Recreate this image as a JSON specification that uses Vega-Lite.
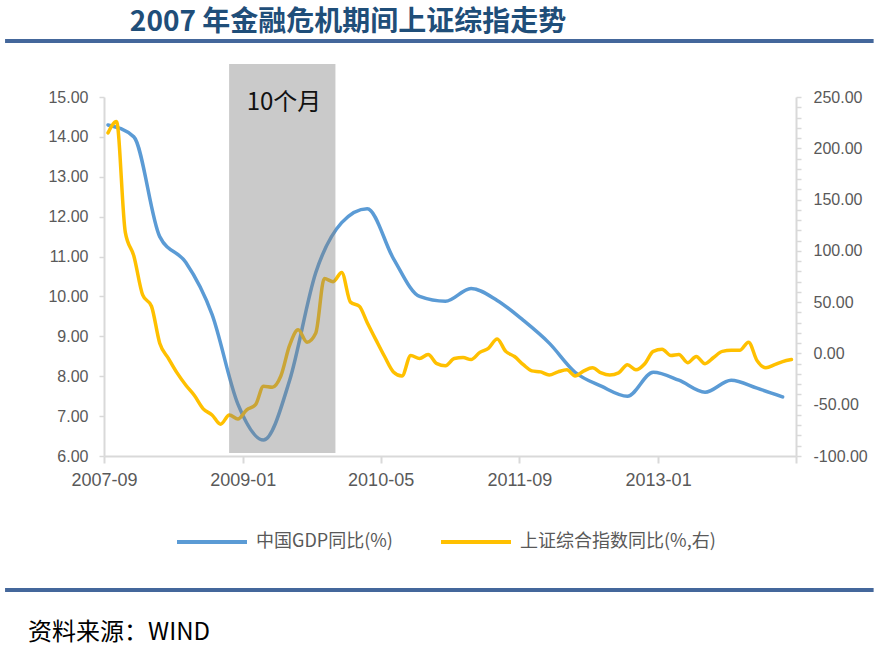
{
  "$schema": "https://vega.github.io/schema/vega-lite/v6.json",
  "width": 692,
  "height": 359,
  "autosize": {"type": "none"},
  "padding": {"left": 104, "top": 97, "right": 84, "bottom": 193},
  "background": "white",
  "config": {
    "view": {"stroke": null},
    "axis": {"grid": false, "title": null, "labelFont": "Liberation Sans", "labelColor": "#595959", "domainColor": "#D9D9D9", "domainWidth": 2, "tickColor": "#D9D9D9", "labelOverlap": false},
    "legend": {
      "orient": "none",
      "legendX": 71,
      "legendY": 408,
      "direction": "horizontal",
      "columns": 2,
      "symbolType": "stroke",
      "symbolSize": 4900,
      "symbolStrokeWidth": 4,
      "labelFontSize": 18,
      "labelColor": "#595959",
      "labelFont": "Noto Sans CJK SC",
      "labelOffset": 7,
      "columnPadding": 40,
      "labelLimit": 400
    }
  },
  "datasets": {
    "gdp": [
      {"date": "2007-09-15", "v": 14.3},
      {"date": "2007-12-15", "v": 14.0},
      {"date": "2008-03-15", "v": 11.5},
      {"date": "2008-06-15", "v": 10.85},
      {"date": "2008-09-15", "v": 9.55},
      {"date": "2008-12-15", "v": 7.3},
      {"date": "2009-03-15", "v": 6.4},
      {"date": "2009-06-15", "v": 7.9},
      {"date": "2009-09-15", "v": 10.6},
      {"date": "2009-12-15", "v": 11.85},
      {"date": "2010-03-15", "v": 12.2},
      {"date": "2010-06-15", "v": 10.95},
      {"date": "2010-09-15", "v": 10.0},
      {"date": "2010-12-15", "v": 9.88},
      {"date": "2011-03-15", "v": 10.2},
      {"date": "2011-06-15", "v": 9.9},
      {"date": "2011-09-15", "v": 9.4},
      {"date": "2011-12-15", "v": 8.83},
      {"date": "2012-03-15", "v": 8.1},
      {"date": "2012-06-15", "v": 7.75},
      {"date": "2012-09-15", "v": 7.5},
      {"date": "2012-12-15", "v": 8.1},
      {"date": "2013-03-15", "v": 7.9},
      {"date": "2013-06-15", "v": 7.6},
      {"date": "2013-09-15", "v": 7.9},
      {"date": "2013-12-15", "v": 7.7},
      {"date": "2014-03-15", "v": 7.48}
    ],
    "sse": [
      {"date": "2007-09-15", "v": 215},
      {"date": "2007-10-15", "v": 226},
      {"date": "2007-11-15", "v": 118},
      {"date": "2007-12-15", "v": 95},
      {"date": "2008-01-15", "v": 57},
      {"date": "2008-02-15", "v": 46},
      {"date": "2008-03-15", "v": 10},
      {"date": "2008-04-15", "v": -5},
      {"date": "2008-05-15", "v": -19},
      {"date": "2008-06-15", "v": -31},
      {"date": "2008-07-15", "v": -41},
      {"date": "2008-08-15", "v": -54},
      {"date": "2008-09-15", "v": -60},
      {"date": "2008-10-15", "v": -69},
      {"date": "2008-11-15", "v": -60},
      {"date": "2008-12-15", "v": -64},
      {"date": "2009-01-15", "v": -55},
      {"date": "2009-02-15", "v": -50},
      {"date": "2009-03-15", "v": -32},
      {"date": "2009-04-15", "v": -33},
      {"date": "2009-05-15", "v": -22},
      {"date": "2009-06-15", "v": 8},
      {"date": "2009-07-15", "v": 23},
      {"date": "2009-08-15", "v": 11},
      {"date": "2009-09-15", "v": 20},
      {"date": "2009-10-15", "v": 73},
      {"date": "2009-11-15", "v": 70},
      {"date": "2009-12-15", "v": 79},
      {"date": "2010-01-15", "v": 50},
      {"date": "2010-02-15", "v": 46},
      {"date": "2010-03-15", "v": 30},
      {"date": "2010-04-15", "v": 13},
      {"date": "2010-05-15", "v": -3},
      {"date": "2010-06-15", "v": -18},
      {"date": "2010-07-15", "v": -22},
      {"date": "2010-08-15", "v": -2},
      {"date": "2010-09-15", "v": -5},
      {"date": "2010-10-15", "v": -1},
      {"date": "2010-11-15", "v": -10},
      {"date": "2010-12-15", "v": -12},
      {"date": "2011-01-15", "v": -5},
      {"date": "2011-02-15", "v": -4},
      {"date": "2011-03-15", "v": -6},
      {"date": "2011-04-15", "v": 1},
      {"date": "2011-05-15", "v": 5},
      {"date": "2011-06-15", "v": 14},
      {"date": "2011-07-15", "v": 2},
      {"date": "2011-08-15", "v": -3},
      {"date": "2011-09-15", "v": -11},
      {"date": "2011-10-15", "v": -17},
      {"date": "2011-11-15", "v": -18},
      {"date": "2011-12-15", "v": -21},
      {"date": "2012-01-15", "v": -18},
      {"date": "2012-02-15", "v": -16},
      {"date": "2012-03-15", "v": -22},
      {"date": "2012-04-15", "v": -17},
      {"date": "2012-05-15", "v": -14},
      {"date": "2012-06-15", "v": -19},
      {"date": "2012-07-15", "v": -21},
      {"date": "2012-08-15", "v": -19},
      {"date": "2012-09-15", "v": -11},
      {"date": "2012-10-15", "v": -16},
      {"date": "2012-11-15", "v": -10},
      {"date": "2012-12-15", "v": 2},
      {"date": "2013-01-15", "v": 4},
      {"date": "2013-02-15", "v": -2},
      {"date": "2013-03-15", "v": -1},
      {"date": "2013-04-15", "v": -9},
      {"date": "2013-05-15", "v": -3},
      {"date": "2013-06-15", "v": -10},
      {"date": "2013-07-15", "v": -4},
      {"date": "2013-08-15", "v": 2},
      {"date": "2013-09-15", "v": 3},
      {"date": "2013-10-15", "v": 3},
      {"date": "2013-11-15", "v": 11},
      {"date": "2013-12-15", "v": -7},
      {"date": "2014-01-15", "v": -14},
      {"date": "2014-02-15", "v": -11},
      {"date": "2014-03-15", "v": -8},
      {"date": "2014-04-15", "v": -6}
    ],
    "period": [
      {"start": "2008-11-14", "end": "2009-11-23", "label": "10个月"}
    ]
  },
  "layer": [
    {
      "layer": [
        {
          "data": {"name": "gdp"},
          "mark": {"type": "line", "interpolate": "monotone", "strokeWidth": 3.5, "strokeJoin": "round", "strokeCap": "round"},
          "encoding": {
            "x": {
              "field": "date", "type": "temporal",
              "scale": {"type": "utc", "domain": [{"year": 2007, "month": 9, "date": 1, "utc": true}, {"year": 2014, "month": 5, "date": 1, "utc": true}]},
              "axis": {"values": [{"year": 2007, "month": 9, "date": 1, "utc": true}, {"year": 2009, "month": 1, "date": 1, "utc": true}, {"year": 2010, "month": 5, "date": 1, "utc": true}, {"year": 2011, "month": 9, "date": 1, "utc": true}, {"year": 2013, "month": 1, "date": 1, "utc": true}, {"year": 2014, "month": 5, "date": 1, "utc": true}], "labelExpr": "utcyear(datum.value) == 2014 ? '' : utcFormat(datum.value, '%Y-%m')", "labelFlush": false, "labelFontSize": 18, "labelPadding": 8, "labelDx": 3, "tickWidth": 2, "tickSize": 7}
            },
            "y": {
              "field": "v", "type": "quantitative",
              "scale": {"domain": [6, 15], "nice": false, "zero": false},
              "axis": {"orient": "left", "values": [6, 7, 8, 9, 10, 11, 12, 13, 14, 15], "format": ".2f", "labelFontSize": 16, "labelPadding": 11, "tickWidth": 1.5, "tickSize": 5}
            },
            "color": {
              "datum": "中国GDP同比(%)",
              "type": "nominal",
              "scale": {"domain": ["中国GDP同比(%)", "上证综合指数同比(%,右)"], "range": ["#5B9BD5", "#FFC000"]},
              "legend": {"title": null}
            }
          }
        }
      ]
    },
    {
      "layer": [
        {
          "data": {"name": "sse"},
          "mark": {"type": "line", "interpolate": "monotone", "strokeWidth": 3.5, "strokeJoin": "round", "strokeCap": "round"},
          "encoding": {
            "x": {
              "field": "date", "type": "temporal",
              "scale": {"type": "utc", "domain": [{"year": 2007, "month": 9, "date": 1, "utc": true}, {"year": 2014, "month": 5, "date": 1, "utc": true}]},
              "axis": {"values": [{"year": 2007, "month": 9, "date": 1, "utc": true}, {"year": 2009, "month": 1, "date": 1, "utc": true}, {"year": 2010, "month": 5, "date": 1, "utc": true}, {"year": 2011, "month": 9, "date": 1, "utc": true}, {"year": 2013, "month": 1, "date": 1, "utc": true}, {"year": 2014, "month": 5, "date": 1, "utc": true}], "labelExpr": "utcyear(datum.value) == 2014 ? '' : utcFormat(datum.value, '%Y-%m')", "labelFlush": false, "labelFontSize": 18, "labelPadding": 8, "labelDx": 3, "tickWidth": 2, "tickSize": 7}
            },
            "y": {
              "field": "v", "type": "quantitative",
              "scale": {"domain": [-100, 250], "nice": false, "zero": false},
              "axis": {"orient": "right", "values": [-100, -90, -80, -70, -60, -50, -40, -30, -20, -10, 0, 10, 20, 30, 40, 50, 60, 70, 80, 90, 100, 110, 120, 130, 140, 150, 160, 170, 180, 190, 200, 210, 220, 230, 240, 250], "labelExpr": "datum.value % 50 == 0 ? replace(format(datum.value, '.2f'), '\u2212', '-') : ''", "labelFontSize": 16, "labelPadding": 12, "labelBound": false, "tickWidth": 1.5, "tickSize": 5}
            },
            "color": {
              "datum": "上证综合指数同比(%,右)",
              "type": "nominal",
              "scale": {"domain": ["中国GDP同比(%)", "上证综合指数同比(%,右)"], "range": ["#5B9BD5", "#FFC000"]},
              "legend": {"title": null}
            }
          }
        },
        {
          "data": {"name": "period"},
          "mark": {"type": "rect", "color": "#808080", "opacity": 0.42},
          "encoding": {
            "x": {
              "field": "start", "type": "temporal",
              "scale": {"type": "utc", "domain": [{"year": 2007, "month": 9, "date": 1, "utc": true}, {"year": 2014, "month": 5, "date": 1, "utc": true}]},
              "axis": {"values": [{"year": 2007, "month": 9, "date": 1, "utc": true}, {"year": 2009, "month": 1, "date": 1, "utc": true}, {"year": 2010, "month": 5, "date": 1, "utc": true}, {"year": 2011, "month": 9, "date": 1, "utc": true}, {"year": 2013, "month": 1, "date": 1, "utc": true}, {"year": 2014, "month": 5, "date": 1, "utc": true}], "labelExpr": "utcyear(datum.value) == 2014 ? '' : utcFormat(datum.value, '%Y-%m')", "labelFlush": false, "labelFontSize": 18, "labelPadding": 8, "labelDx": 3, "tickWidth": 2, "tickSize": 7}
            },
            "x2": {"field": "end"},
            "y": {
              "datum": 282.2, "type": "quantitative",
              "scale": {"domain": [-100, 250], "nice": false, "zero": false},
              "axis": {"orient": "right", "values": [-100, -90, -80, -70, -60, -50, -40, -30, -20, -10, 0, 10, 20, 30, 40, 50, 60, 70, 80, 90, 100, 110, 120, 130, 140, 150, 160, 170, 180, 190, 200, 210, 220, 230, 240, 250], "labelExpr": "datum.value % 50 == 0 ? replace(format(datum.value, '.2f'), '\u2212', '-') : ''", "labelFontSize": 16, "labelPadding": 12, "labelBound": false, "tickWidth": 1.5, "tickSize": 5}
            },
            "y2": {"datum": -97.1}
          }
        },
        {
          "data": {"name": "period"},
          "mark": {"type": "text", "font": "Noto Sans CJK SC", "fontSize": 24, "color": "#111111", "align": "center", "baseline": "middle"},
          "encoding": {
            "x": {
              "datum": {"year": 2009, "month": 5, "date": 26, "utc": true}, "type": "temporal",
              "scale": {"type": "utc", "domain": [{"year": 2007, "month": 9, "date": 1, "utc": true}, {"year": 2014, "month": 5, "date": 1, "utc": true}]},
              "axis": {"values": [{"year": 2007, "month": 9, "date": 1, "utc": true}, {"year": 2009, "month": 1, "date": 1, "utc": true}, {"year": 2010, "month": 5, "date": 1, "utc": true}, {"year": 2011, "month": 9, "date": 1, "utc": true}, {"year": 2013, "month": 1, "date": 1, "utc": true}, {"year": 2014, "month": 5, "date": 1, "utc": true}], "labelExpr": "utcyear(datum.value) == 2014 ? '' : utcFormat(datum.value, '%Y-%m')", "labelFlush": false, "labelFontSize": 18, "labelPadding": 8, "labelDx": 3, "tickWidth": 2, "tickSize": 7}
            },
            "y": {
              "datum": 244.2, "type": "quantitative",
              "scale": {"domain": [-100, 250], "nice": false, "zero": false},
              "axis": {"orient": "right", "values": [-100, -90, -80, -70, -60, -50, -40, -30, -20, -10, 0, 10, 20, 30, 40, 50, 60, 70, 80, 90, 100, 110, 120, 130, 140, 150, 160, 170, 180, 190, 200, 210, 220, 230, 240, 250], "labelExpr": "datum.value % 50 == 0 ? replace(format(datum.value, '.2f'), '\u2212', '-') : ''", "labelFontSize": 16, "labelPadding": 12, "labelBound": false, "tickWidth": 1.5, "tickSize": 5}
            },
            "text": {"field": "label"}
          }
        },
        {
          "data": {"values": [{}]},
          "mark": {"type": "rule", "color": "#44679B", "strokeWidth": 4},
          "encoding": {
            "x": {
              "datum": {"year": 2006, "month": 9, "date": 18, "utc": true}, "type": "temporal",
              "scale": {"type": "utc", "domain": [{"year": 2007, "month": 9, "date": 1, "utc": true}, {"year": 2014, "month": 5, "date": 1, "utc": true}]},
              "axis": {"values": [{"year": 2007, "month": 9, "date": 1, "utc": true}, {"year": 2009, "month": 1, "date": 1, "utc": true}, {"year": 2010, "month": 5, "date": 1, "utc": true}, {"year": 2011, "month": 9, "date": 1, "utc": true}, {"year": 2013, "month": 1, "date": 1, "utc": true}, {"year": 2014, "month": 5, "date": 1, "utc": true}], "labelExpr": "utcyear(datum.value) == 2014 ? '' : utcFormat(datum.value, '%Y-%m')", "labelFlush": false, "labelFontSize": 18, "labelPadding": 8, "labelDx": 3, "tickWidth": 2, "tickSize": 7}
            },
            "x2": {"datum": {"year": 2015, "month": 1, "date": 29, "utc": true}},
            "y": {
              "datum": 304.6, "type": "quantitative",
              "scale": {"domain": [-100, 250], "nice": false, "zero": false},
              "axis": {"orient": "right", "values": [-100, -90, -80, -70, -60, -50, -40, -30, -20, -10, 0, 10, 20, 30, 40, 50, 60, 70, 80, 90, 100, 110, 120, 130, 140, 150, 160, 170, 180, 190, 200, 210, 220, 230, 240, 250], "labelExpr": "datum.value % 50 == 0 ? replace(format(datum.value, '.2f'), '\u2212', '-') : ''", "labelFontSize": 16, "labelPadding": 12, "labelBound": false, "tickWidth": 1.5, "tickSize": 5}
            }
          }
        },
        {
          "data": {"values": [{}]},
          "mark": {"type": "rule", "color": "#44679B", "strokeWidth": 4},
          "encoding": {
            "x": {
              "datum": {"year": 2006, "month": 9, "date": 18, "utc": true}, "type": "temporal",
              "scale": {"type": "utc", "domain": [{"year": 2007, "month": 9, "date": 1, "utc": true}, {"year": 2014, "month": 5, "date": 1, "utc": true}]},
              "axis": {"values": [{"year": 2007, "month": 9, "date": 1, "utc": true}, {"year": 2009, "month": 1, "date": 1, "utc": true}, {"year": 2010, "month": 5, "date": 1, "utc": true}, {"year": 2011, "month": 9, "date": 1, "utc": true}, {"year": 2013, "month": 1, "date": 1, "utc": true}, {"year": 2014, "month": 5, "date": 1, "utc": true}], "labelExpr": "utcyear(datum.value) == 2014 ? '' : utcFormat(datum.value, '%Y-%m')", "labelFlush": false, "labelFontSize": 18, "labelPadding": 8, "labelDx": 3, "tickWidth": 2, "tickSize": 7}
            },
            "x2": {"datum": {"year": 2015, "month": 1, "date": 29, "utc": true}},
            "y": {
              "datum": -230.6, "type": "quantitative",
              "scale": {"domain": [-100, 250], "nice": false, "zero": false},
              "axis": {"orient": "right", "values": [-100, -90, -80, -70, -60, -50, -40, -30, -20, -10, 0, 10, 20, 30, 40, 50, 60, 70, 80, 90, 100, 110, 120, 130, 140, 150, 160, 170, 180, 190, 200, 210, 220, 230, 240, 250], "labelExpr": "datum.value % 50 == 0 ? replace(format(datum.value, '.2f'), '\u2212', '-') : ''", "labelFontSize": 16, "labelPadding": 12, "labelBound": false, "tickWidth": 1.5, "tickSize": 5}
            }
          }
        },
        {
          "data": {"values": [{"t": "2007 年金融危机期间上证综指走势"}]},
          "mark": {"type": "text", "font": "Noto Sans CJK SC", "fontSize": 28, "fontWeight": "bold", "color": "#1F4E79", "align": "left", "baseline": "middle"},
          "encoding": {
            "x": {
              "datum": {"year": 2007, "month": 12, "date": 1, "utc": true}, "type": "temporal",
              "scale": {"type": "utc", "domain": [{"year": 2007, "month": 9, "date": 1, "utc": true}, {"year": 2014, "month": 5, "date": 1, "utc": true}]},
              "axis": {"values": [{"year": 2007, "month": 9, "date": 1, "utc": true}, {"year": 2009, "month": 1, "date": 1, "utc": true}, {"year": 2010, "month": 5, "date": 1, "utc": true}, {"year": 2011, "month": 9, "date": 1, "utc": true}, {"year": 2013, "month": 1, "date": 1, "utc": true}, {"year": 2014, "month": 5, "date": 1, "utc": true}], "labelExpr": "utcyear(datum.value) == 2014 ? '' : utcFormat(datum.value, '%Y-%m')", "labelFlush": false, "labelFontSize": 18, "labelPadding": 8, "labelDx": 3, "tickWidth": 2, "tickSize": 7}
            },
            "y": {
              "datum": 322.1, "type": "quantitative",
              "scale": {"domain": [-100, 250], "nice": false, "zero": false},
              "axis": {"orient": "right", "values": [-100, -90, -80, -70, -60, -50, -40, -30, -20, -10, 0, 10, 20, 30, 40, 50, 60, 70, 80, 90, 100, 110, 120, 130, 140, 150, 160, 170, 180, 190, 200, 210, 220, 230, 240, 250], "labelExpr": "datum.value % 50 == 0 ? replace(format(datum.value, '.2f'), '\u2212', '-') : ''", "labelFontSize": 16, "labelPadding": 12, "labelBound": false, "tickWidth": 1.5, "tickSize": 5}
            },
            "text": {"field": "t"}
          }
        },
        {
          "data": {"values": [{"t": "资料来源：WIND"}]},
          "mark": {"type": "text", "font": "Noto Sans CJK SC", "fontSize": 24, "color": "#000000", "align": "left", "baseline": "middle"},
          "encoding": {
            "x": {
              "datum": {"year": 2006, "month": 12, "date": 8, "utc": true}, "type": "temporal",
              "scale": {"type": "utc", "domain": [{"year": 2007, "month": 9, "date": 1, "utc": true}, {"year": 2014, "month": 5, "date": 1, "utc": true}]},
              "axis": {"values": [{"year": 2007, "month": 9, "date": 1, "utc": true}, {"year": 2009, "month": 1, "date": 1, "utc": true}, {"year": 2010, "month": 5, "date": 1, "utc": true}, {"year": 2011, "month": 9, "date": 1, "utc": true}, {"year": 2013, "month": 1, "date": 1, "utc": true}, {"year": 2014, "month": 5, "date": 1, "utc": true}], "labelExpr": "utcyear(datum.value) == 2014 ? '' : utcFormat(datum.value, '%Y-%m')", "labelFlush": false, "labelFontSize": 18, "labelPadding": 8, "labelDx": 3, "tickWidth": 2, "tickSize": 7}
            },
            "y": {
              "datum": -272.6, "type": "quantitative",
              "scale": {"domain": [-100, 250], "nice": false, "zero": false},
              "axis": {"orient": "right", "values": [-100, -90, -80, -70, -60, -50, -40, -30, -20, -10, 0, 10, 20, 30, 40, 50, 60, 70, 80, 90, 100, 110, 120, 130, 140, 150, 160, 170, 180, 190, 200, 210, 220, 230, 240, 250], "labelExpr": "datum.value % 50 == 0 ? replace(format(datum.value, '.2f'), '\u2212', '-') : ''", "labelFontSize": 16, "labelPadding": 12, "labelBound": false, "tickWidth": 1.5, "tickSize": 5}
            },
            "text": {"field": "t"}
          }
        }
      ]
    }
  ],
  "resolve": {"scale": {"y": "independent"}}
}
